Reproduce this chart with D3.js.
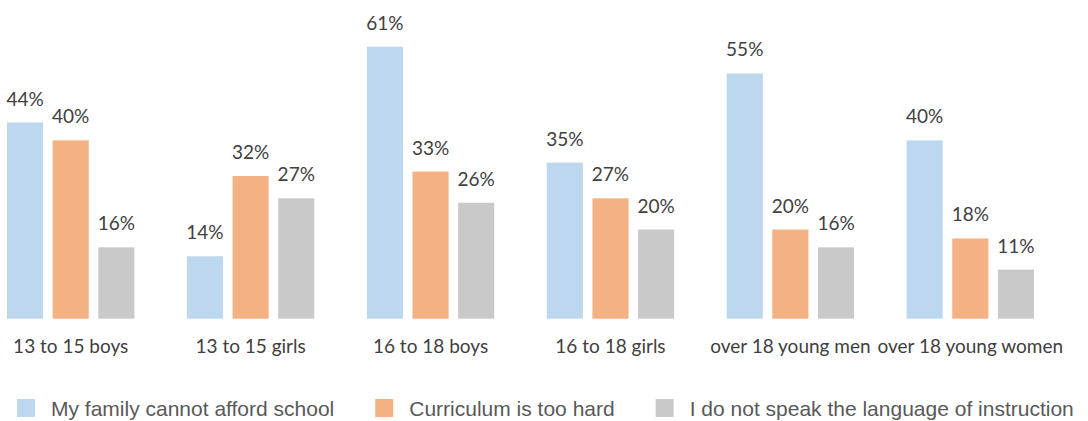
<!DOCTYPE html>
<html>
<head>
<meta charset="utf-8">
<title>Reasons for leaving school</title>
<script src="https://cdn.jsdelivr.net/npm/d3@7"></script>
<style>
  body { margin: 0; background: #fff; }
  .val { fill: #404040; font-family: Lato, 'Open Sans', sans-serif; font-size: 19px; text-anchor: middle; }
  .cat text { fill: #404040; font-family: Lato, 'Open Sans', sans-serif; font-size: 19px; }
  .legText { fill: #595959; font-family: 'Liberation Sans', Arial, sans-serif; font-size: 21px; }
</style>
</head>
<body>
<div id="chart"></div>
<script>
// categories and series
const groups = ["13 to 15 boys", "13 to 15 girls", "16 to 18 boys", "16 to 18 girls", "over 18 young men", "over 18 young women"];
const seriesNames = ["My family cannot afford school", "Curriculum is too hard", "I do not speak the language of instruction"];
const afford = [44, 14, 61, 35, 55, 40];
const curriculum = [40, 32, 33, 27, 20, 18];
const language = [16, 27, 26, 20, 16, 11];
const colours = ["#BDD7EE", "#F4B183", "#C9C9C9"];

const seriesValues = [afford, curriculum, language];

const width = 1088, height = 421;
const svg = d3.select("#chart").append("svg")
    .attr("width", width)
    .attr("height", height);

const x0 = d3.scaleBand()
    .domain(groups)
    .range([7, 1034])
    .paddingInner(0.292)
    .paddingOuter(0);

const x1 = d3.scaleBand()
    .domain(seriesNames)
    .range([0, x0.bandwidth()])
    .paddingInner(0.209);

const y = d3.scaleLinear()
    .domain([0, 70])
    .range([318.7, 6.6]);

// flat list of bars
const bars = [];
groups.forEach((g, i) => {
  seriesNames.forEach((s, j) => {
    bars.push({ group: g, series: s, value: seriesValues[j][i], fill: colours[j] });
  });
});

const g = svg.append("g");

g.selectAll("rect.bar")
    .data(bars)
  .enter().append("rect")
    .attr("class", "bar")
    .attr("x", d => x0(d.group) + x1(d.series))
    .attr("y", d => y(d.value))
    .attr("width", x1.bandwidth())
    .attr("height", d => y(0) - y(d.value))
    .attr("fill", d => d.fill);

g.selectAll("text.val")
    .data(bars)
  .enter().append("text")
    .attr("class", "val")
    .attr("x", d => x0(d.group) + x1(d.series) + x1.bandwidth() / 2)
    .attr("y", d => y(d.value) - 17)
    .text(d => d.value + "%");

// category axis, no line or ticks
const axis = svg.append("g")
    .attr("class", "cat")
    .attr("transform", `translate(0,${y(0)})`)
    .call(d3.axisBottom(x0).tickSize(0).tickPadding(0));
axis.select(".domain").remove();
axis.selectAll("text")
    .attr("y", 34.5)
    .attr("dy", null);

// legend
const legend = svg.append("g").attr("transform", "translate(17,399)");
let lx = 0;
seriesNames.forEach((s, j) => {
  const item = legend.append("g").attr("transform", `translate(${lx},0)`);
  item.append("rect")
      .attr("width", 18)
      .attr("height", 18)
      .attr("fill", colours[j]);
  const t = item.append("text")
      .attr("class", "legText")
      .attr("x", 34)
      .attr("y", 17)
      .text(s);
  lx += 34 + t.node().getComputedTextLength() + 41;
});
</script>
</body>
</html>
